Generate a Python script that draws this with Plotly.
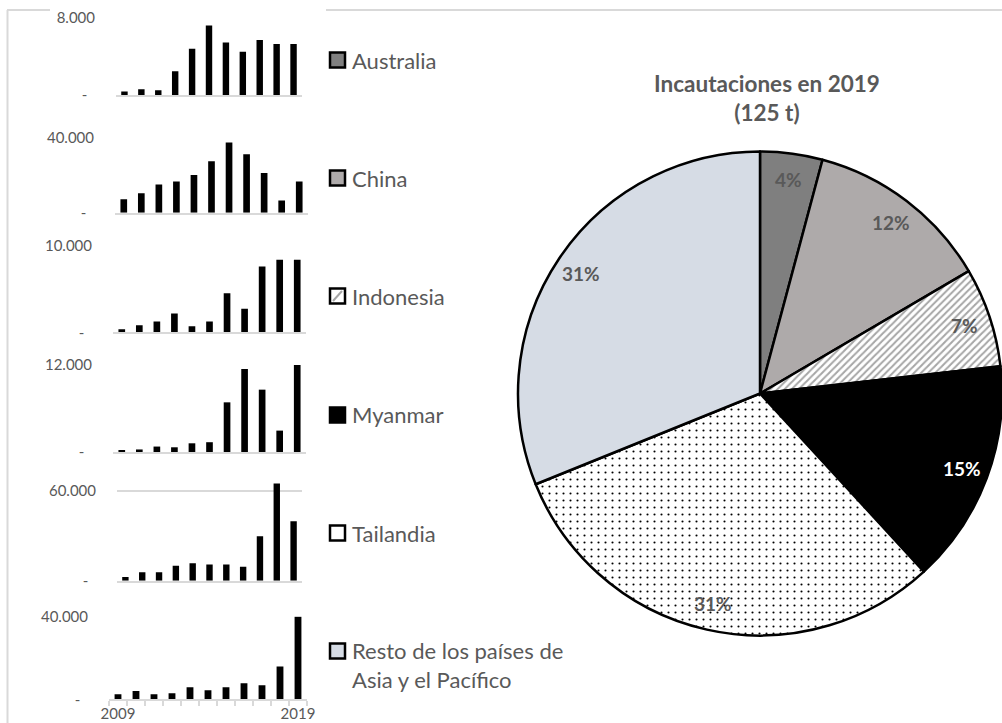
import math
import plotly.graph_objects as go

# --- datos ---
years = [2009, 2010, 2011, 2012, 2013, 2014, 2015, 2016, 2017, 2018, 2019]

australia = [350, 600, 500, 2450, 4750, 7150, 5400, 4450, 5650, 5250, 5250]
china = [7100, 10300, 15000, 16500, 20000, 27300, 37200, 31000, 21100, 6500, 16500]
indonesia = [350, 800, 1250, 2150, 700, 1250, 4500, 2700, 7550, 8350, 8350]
myanmar = [250, 350, 750, 650, 1200, 1350, 6850, 11450, 8600, 2950, 18700]
tailandia = [2450, 5600, 5600, 10000, 11600, 10900, 10900, 9350, 29700, 65000, 39700]
resto = [2400, 4000, 2400, 2900, 5800, 4350, 5800, 7700, 6750, 15750, 39800]

country_names = ["Australia", "China", "Indonesia", "Myanmar", "Tailandia",
                 "Resto de los países de<br>Asia y el Pacífico"]
axis_max = [8000, 40000, 10000, 12000, 60000, 40000]

pie_labels = ["Australia", "China", "Indonesia", "Myanmar", "Tailandia",
              "Resto de los países de Asia y el Pacífico"]
pie_values = [5.2, 15.5, 8.3, 18.7, 38.4, 38.9]
pie_title = "Incautaciones en 2019<br>(125 t)"

W, H = 1002, 723
GRAY_TXT = "#595959"
GRID = "#D9D9D9"
FONT = "Lato"


def fx(x):
    return x / W


def fy(y):
    return 1 - y / H


def fmt(v):
    return f"{v:,}".replace(",", ".")


series = [australia, china, indonesia, myanmar, tailandia, resto]

# panel geometry in pixels: x0, x1, y of top gridline, y of baseline, range top factor
panels = [
    (116, 302, 17.3, 95.0, 1.0),
    (115, 308, 137.3, 212.7, 1.0),
    (113, 306, 245.3, 332.3, 1.0),
    (113, 306, 365.0, 452.0, 1.0),
    (117, 302, 491.0, 580.7, 67000 / 60000),
    (109, 307, 616.3, 699.3, 1.0),
]

fig = go.Figure()
layout_axes = {}

for i, (vals, ymax, geo) in enumerate(zip(series, axis_max, panels)):
    n = "" if i == 0 else str(i + 1)
    x0, x1, ytop, ybase, k = geo
    top_px = ybase - (ybase - ytop) * k
    fig.add_trace(go.Bar(
        x=years, y=vals, xaxis="x" + n, yaxis="y" + n,
        marker=dict(color="black", line=dict(width=0)),
        showlegend=False, hoverinfo="x+y",
    ))
    last = i == len(series) - 1
    layout_axes["xaxis" + n] = dict(
        domain=[fx(x0), fx(x1)], anchor="y" + n, automargin=False,
        range=[2008.5, 2019.5], showgrid=False, zeroline=False,
        showline=True, linecolor=GRID, linewidth=1.5,
        tickvals=[2009, 2019] if last else [],
        ticktext=["2009", "2019"] if last else [],
        showticklabels=last, ticks="",
        tickfont=dict(family=FONT, size=15, color=GRAY_TXT),
        minor=dict(ticks="outside", tick0=2008.5, dtick=1, ticklen=5,
                   tickcolor=GRID, tickwidth=1.5) if last else None,
    )
    layout_axes["yaxis" + n] = dict(
        domain=[fy(ybase), fy(top_px)], anchor="x" + n, automargin=False,
        range=[0, ymax * k], tickvals=[0, ymax],
        ticktext=["-\u00a0\u00a0", fmt(ymax)],
        showgrid=True, gridcolor=GRID, gridwidth=1.5, zeroline=False,
        ticks="outside", ticklen=17, tickcolor="rgba(0,0,0,0)",
        tickfont=dict(family=FONT, size=15, color=GRAY_TXT),
    )

# pie placement (pixels)
PIE_X0, PIE_X1, PIE_Y0, PIE_Y1 = 518, 1002, 150.5, 636.5
fig.add_trace(go.Pie(
    labels=pie_labels, values=pie_values, sort=False, direction="clockwise",
    rotation=0,
    domain=dict(x=[fx(PIE_X0), fx(PIE_X1)], y=[fy(PIE_Y1), fy(PIE_Y0)]),
    marker=dict(
        colors=["#7F7F7F", "#AEAAAA", "white", "black", "white", "#D6DCE5"],
        line=dict(color="black", width=2.5),
        pattern=dict(
            shape=["", "", "/", "", ".", ""],
            fgcolor=["#7F7F7F", "#AEAAAA", "#A6A6A6", "black", "black", "#D6DCE5"],
            bgcolor=["#7F7F7F", "#AEAAAA", "white", "black", "white", "#D6DCE5"],
            size=[8, 8, 5, 8, 7, 8],
            solidity=[0.3, 0.3, 0.4, 0.3, 0.07, 0.3],
            fillmode="replace",
        ),
    ),
    textinfo="none", showlegend=False, hoverinfo="label+percent",
))

# percentage labels near the outer edge of each slice (Excel "inside end" style)
cx = (PIE_X0 + PIE_X1) / 2
cy_pie = (PIE_Y0 + PIE_Y1) / 2
R = min(PIE_X1 - PIE_X0, PIE_Y1 - PIE_Y0) / 2
total = sum(pie_values)
label_colors = [GRAY_TXT, GRAY_TXT, GRAY_TXT, "white", GRAY_TXT, GRAY_TXT]
annotations = []
cum = 0
for v, col in zip(pie_values, label_colors):
    mid = (cum + v / 2) / total * 2 * math.pi
    cum += v
    lx = cx + 0.89 * R * math.sin(mid)
    ly = cy_pie - 0.89 * R * math.cos(mid)
    annotations.append(dict(
        text=f"<b>{round(100 * v / total)}%</b>", xref="paper", yref="paper",
        x=fx(lx), y=fy(ly), xanchor="center", yanchor="middle", showarrow=False,
        font=dict(family=FONT, size=19, color=col),
    ))

# legend squares + labels
square_fill = ["#808080", "#AEAAAA", "white", "black", "white", "#D6DCE5"]
legend_cy = [60, 178, 296, 415, 533, 651]
shapes = []
for name, fill, cy in zip(country_names, square_fill, legend_cy):
    shapes.append(dict(type="rect", xref="paper", yref="paper",
                       x0=fx(330), x1=fx(345), y0=fy(cy + 7.5), y1=fy(cy - 7.5),
                       fillcolor=fill, line=dict(color="black", width=2.5)))
    if name == "Indonesia":
        shapes.append(dict(type="line", xref="paper", yref="paper",
                           x0=fx(333), y0=fy(cy + 5), x1=fx(342), y1=fy(cy - 5),
                           line=dict(color="#A6A6A6", width=2)))
    multi = "<br>" in name
    annotations.append(dict(
        text=name, xref="paper", yref="paper", x=fx(350),
        y=fy(cy - 16) if multi else fy(cy), xanchor="left",
        yanchor="top" if multi else "middle", align="left", showarrow=False,
        font=dict(family=FONT, size=22, color=GRAY_TXT),
    ))

annotations.append(dict(
    text=f"<b>{pie_title}</b>", xref="paper", yref="paper",
    x=fx(767), y=fy(98), xanchor="center", yanchor="middle",
    showarrow=False, align="center",
    font=dict(family=FONT, size=22.5, color=GRAY_TXT),
))

# chart frames
frame = dict(color=GRID, width=2)
shapes += [
    dict(type="line", xref="paper", yref="paper", x0=fx(7.5), x1=fx(7.5),
         y0=fy(10), y1=0, line=frame),
    dict(type="line", xref="paper", yref="paper", x0=fx(7), x1=fx(50),
         y0=fy(10), y1=fy(10), line=frame),
    dict(type="line", xref="paper", yref="paper", x0=fx(326), x1=1,
         y0=fy(10), y1=fy(10), line=frame),
]

fig.update_layout(
    width=W, height=H,
    margin=dict(l=0, r=0, t=0, b=0, autoexpand=False),
    paper_bgcolor="white", plot_bgcolor="white",
    bargap=0.62,
    shapes=shapes, annotations=annotations,
    font=dict(family=FONT, color=GRAY_TXT),
    **layout_axes,
)

# page body margin would shift the figure; remove it so the figure fills the window
fig.write_html("out.html", config={"displayModeBar": False},
               post_script="document.body.style.margin = '0';")
